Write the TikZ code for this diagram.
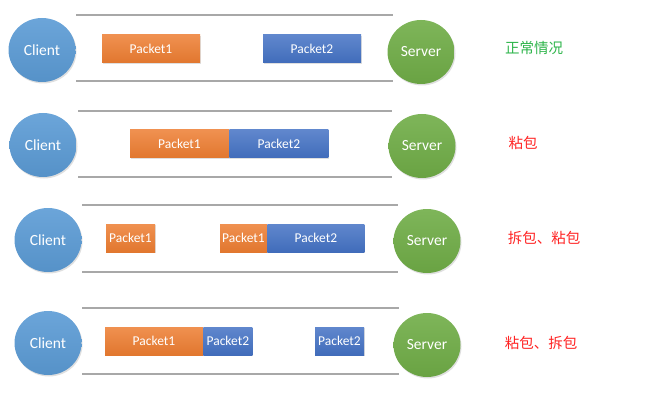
\documentclass[tikz,border=0pt]{standalone}
\usepackage{fontspec}
\setmainfont{Carlito}
\newfontfamily\cjk{Noto Sans CJK SC}
\usetikzlibrary{shapes.geometric, positioning, shadows}
\definecolor{hostblue}{HTML}{5B9BD5}
\definecolor{hostgreen}{HTML}{70AD47}
\definecolor{pktorange}{HTML}{ED7D31}
\definecolor{pktblue}{HTML}{4472C4}
\definecolor{pipegray}{HTML}{A8A8A8}
\definecolor{okgreen}{HTML}{2DB44A}
\definecolor{badred}{HTML}{FF2424}
\tikzstyle{host} = [ellipse, minimum width=67pt, minimum height=64pt, inner sep=0pt,
    text=white, font=\fontsize{15.5}{18}\selectfont,
    drop shadow={opacity=0.25, shadow xshift=1pt, shadow yshift=-1.5pt}]
\tikzstyle{client} = [host, top color=hostblue!90!white, bottom color=hostblue!94!black]
\tikzstyle{server} = [host, top color=hostgreen!90!white, bottom color=hostgreen!94!black]
\tikzstyle{packet} = [rectangle, minimum height=28pt, inner sep=0pt, text=white,
    font=\fontsize{13.5}{16}\selectfont,
    drop shadow={opacity=0.25, shadow xshift=1pt, shadow yshift=-1pt}]
\tikzstyle{pkt1} = [packet, top color=pktorange!85!white, bottom color=pktorange!95!black]
\tikzstyle{pkt2} = [packet, top color=pktblue!85!white, bottom color=pktblue!95!black]
\tikzstyle{pipe} = [draw=pipegray, line width=1.3pt]
\tikzstyle{note} = [font=\cjk\fontsize{14.5}{17}\selectfont]

\begin{document}
\begin{tikzpicture}[x=1pt, y=-1pt]
  \useasboundingbox (0,0) rectangle (648,401);

  % pipes
  \draw[pipe] (76,15) -- (393,15);   \draw[pipe] (76,81) -- (393,81);
  \draw[pipe] (78,111) -- (392,111); \draw[pipe] (78,177) -- (392,177);
  \draw[pipe] (82,205) -- (398,205); \draw[pipe] (82,272) -- (398,272);
  \draw[pipe] (82,308) -- (399,308); \draw[pipe] (82,374) -- (399,374);

  % normal case
  \node (client1) [client] at (42,50) {Client};
  \node (server1) [server] at (421,52) {Server};
  \node (pkt1a) [pkt1, minimum width=98pt] at (151,49) {Packet1};
  \node (pkt1b) [pkt2, minimum width=98pt] at (312,49) {Packet2};
  \node (note1) [note, text=okgreen] at (534,48) {正常情况};

  % sticky
  \node (client2) [client] at (43,145) {Client};
  \node (server2) [server] at (422,146) {Server};
  \node (pkt2a) [pkt1, minimum width=99pt] at (179.5,144) {Packet1};
  \node (pkt2b) [pkt2, minimum width=99pt, right=0pt of pkt2a] {Packet2};
  \node (note2) [note, text=badred] at (523,143) {粘包};

  % split then sticky
  \node (client3) [client] at (48,240) {Client};
  \node (server3) [server] at (427,241) {Server};
  \node (pkt3a) [pkt1, minimum width=49pt] at (130.5,238) {Packet1};
  \node (pkt3b) [pkt1, minimum width=47pt] at (243.5,238) {Packet1};
  \node (pkt3c) [pkt2, minimum width=97pt, right=0pt of pkt3b] {Packet2};
  \node (note3) [note, text=badred] at (544,238) {拆包、粘包};

  % sticky then split
  \node (client4) [client] at (48,343) {Client};
  \node (server4) [server] at (427,345) {Server};
  \node (pkt4a) [pkt1, minimum width=98pt] at (154,341) {Packet1};
  \node (pkt4b) [pkt2, minimum width=49pt, right=0pt of pkt4a] {Packet2};
  \node (pkt4c) [pkt2, minimum width=49pt] at (339.5,341) {Packet2};
  \node (note4) [note, text=badred] at (541,343) {粘包、拆包};
\end{tikzpicture}
\end{document}
